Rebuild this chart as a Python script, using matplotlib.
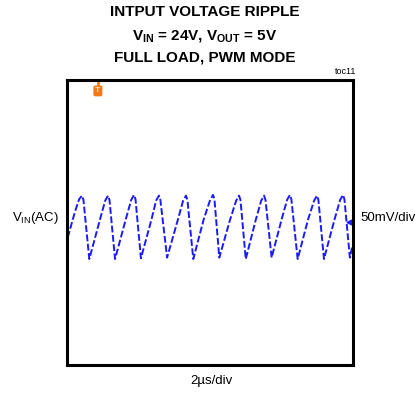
import matplotlib
matplotlib.use("Agg")
import matplotlib.pyplot as plt

# ---------------------------------------------------------------------------
# data (time in us, ripple in mV)
t_us = [0.05, 0.55, 0.85, 1.05, 1.15, 1.56,
        2.30, 2.67, 2.87, 2.97, 3.36,
        4.10, 4.49, 4.69, 4.79, 5.17,
        5.90, 6.23, 6.43, 6.53, 7.00,
        7.75, 8.12, 8.32, 8.42, 8.83,
        9.55, 10.01, 10.21, 10.31, 10.65,
        11.40, 11.83, 12.03, 12.13, 12.50,
        13.20, 13.58, 13.78, 13.88, 14.31,
        15.00, 15.39, 15.59, 15.69, 16.13,
        16.85, 17.28, 17.48, 17.58, 17.97,
        18.70, 19.10, 19.30, 19.40, 19.78, 19.93]
ripple_mv = [-22, 14, 32, 37, 31, -52,
             3, 30, 37, 31, -52,
             3, 31, 38, 32, -51,
             3, 30, 37, 31, -50,
             3, 30, 37, 31, -52,
             3, 31, 38, 32, -50,
             3, 30, 37, 31, -52,
             3, 30, 37, 31, -50,
             3, 31, 38, 32, -52,
             3, 30, 37, 31, -52,
             3, 31, 38, 32, -50, -36]

title_lines = ["INTPUT VOLTAGE RIPPLE",
               r"$\mathbf{V_{IN}}$ = 24V, $\mathbf{V_{OUT}}$ = 5V",
               "FULL LOAD, PWM MODE"]

plt.rcParams['font.family'] = ['Liberation Sans', 'DejaVu Sans']
plt.rcParams['mathtext.fontset'] = 'custom'
plt.rcParams['mathtext.rm'] = 'Liberation Sans'
plt.rcParams['mathtext.bf'] = 'Liberation Sans:bold'

fig = plt.figure(figsize=(4.19, 3.96), dpi=100)
ax = fig.add_axes([67/419, 1-364.5/396, 286/419, 285/396])

ax.plot(t_us, ripple_mv, color='#1a1aff', lw=1.4, ls=(0, (3.5, 1.3)))
ax.set_xlim(0, 20)
ax.set_ylim(-200, 200)
ax.set_xticks([])
ax.set_yticks([])
for s in ax.spines.values():
    s.set_linewidth(2.2)
    s.set_color('black')

# channel / trigger markers
ax.text(2.16, 184, 'T', color='#ffd9b0', fontsize=6, fontweight='bold',
        ha='center', va='center',
        bbox=dict(boxstyle='round,pad=0.15', fc='#f07a1a', ec='#f07a1a'))
ax.plot([2.16, 2.16], [192, 198], color='#f07a1a', lw=2)
ax.plot([19.8, 20.0], [0, 0], color='#1a1aff', lw=1.0)
ax.plot([19.7], [0], marker='<', ms=3.5, color='#1a1aff', ls='none')

# titles and labels
ys = [12.5, 35.5, 57.5]
for ln, y in zip(title_lines, ys):
    fig.text(205/419, 1-y/396, ln, ha='center', va='center',
             fontsize=11, fontweight='bold')
fig.text(356/419, 1-72/396, 'toc11', ha='right', va='center', fontsize=6.5)
fig.text(35/419, 1-218/396, r'V$_{\mathrm{IN}}$(AC)', ha='center', va='center',
         fontsize=9.5)
fig.text(360/419, 1-218/396, '50mV/div', ha='left', va='center', fontsize=9.5)
fig.text(211/419, 1-381/396, '2µs/div', ha='center', va='center', fontsize=9.5)

fig.savefig('out.png', dpi=100)
